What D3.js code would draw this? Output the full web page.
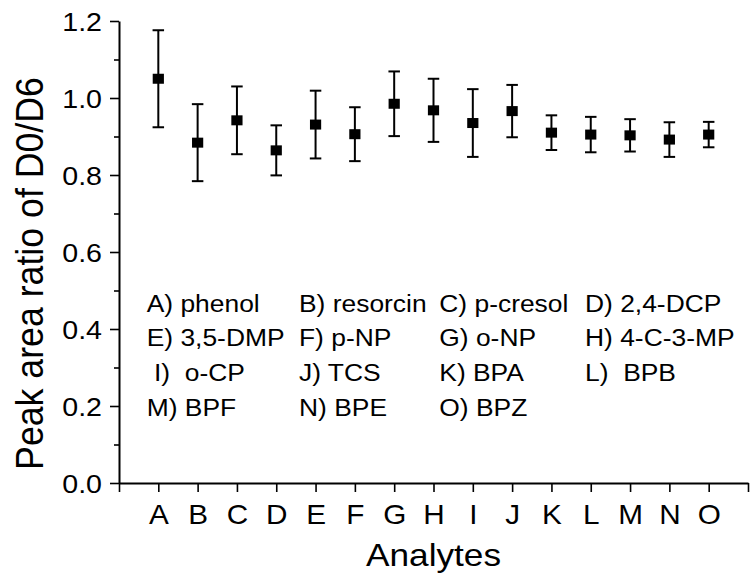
<!DOCTYPE html>
<html>
<head>
<meta charset="utf-8">
<script src="https://cdn.jsdelivr.net/npm/d3@7"></script>
<style>
  html, body { margin: 0; padding: 0; background: #fff; }
  svg { display: block; }
  text { font-family: "Liberation Sans", Arial, sans-serif; fill: #000; white-space: pre; }
</style>
</head>
<body>
<svg id="chart" width="751" height="581"></svg>
<script>
// ---- data ----
const categories = ["A","B","C","D","E","F","G","H","I","J","K","L","M","N","O"];
const means = [1.050, 0.884, 0.942, 0.864, 0.931, 0.906, 0.985, 0.968, 0.935, 0.966, 0.910, 0.905, 0.903, 0.892, 0.905];
const errors = [0.126, 0.100, 0.088, 0.065, 0.088, 0.070, 0.084, 0.082, 0.088, 0.068, 0.045, 0.046, 0.042, 0.045, 0.033];
const yTickValues = [0, 0.2, 0.4, 0.6, 0.8, 1.0, 1.2];
const yMinorValues = [0.1, 0.3, 0.5, 0.7, 0.9, 1.1];
const legendRows = [
  ["A) phenol", "B) resorcin", "C) p-cresol", "D) 2,4-DCP"],
  ["E) 3,5-DMP", "F) p-NP", "G) o-NP", "H) 4-C-3-MP"],
  [" I)  o-CP", "J) TCS", "K) BPA", "L)  BPB"],
  ["M) BPF", "N) BPE", "O) BPZ"]
];
const yTitle = "Peak area ratio of D0/D6";
const xTitle = "Analytes";

// ---- layout ----
const SX = 1.1; // horizontal stretch of the reference raster
const svg = d3.select("#chart");
const x = d3.scaleLinear().domain([0, 16]).range([119, 748]);
const y = d3.scaleLinear().domain([0, 1.2]).range([483, 21]);

// y axis minor ticks
svg.append("g").attr("transform", "translate(119,0)")
  .call(d3.axisLeft(y).tickValues(yMinorValues).tickSize(5).tickSizeOuter(0).tickFormat(""))
  .call(g => g.select(".domain").remove())
  .call(g => g.selectAll("line").attr("stroke", "#000").attr("stroke-width", 1.6));

// y axis major
const gy = svg.append("g").attr("transform", "translate(119,0)")
  .call(d3.axisLeft(y).tickValues(yTickValues).tickSize(9).tickSizeOuter(0).tickFormat(d3.format(".1f")));
gy.select(".domain").attr("stroke", "#000").attr("stroke-width", 2);
gy.selectAll("line").attr("stroke", "#000").attr("stroke-width", 1.6);
gy.selectAll("text")
  .attr("x", null).attr("dy", null)
  .attr("text-anchor", "end")
  .attr("dominant-baseline", "central")
  .attr("font-size", 26)
  .attr("transform", `translate(-17,0) scale(${SX},1)`);

// x axis
const gx = svg.append("g").attr("transform", "translate(0,483)")
  .call(d3.axisBottom(x).tickValues(d3.range(0, 17)).tickSize(9).tickSizeOuter(0)
    .tickFormat(i => categories[i - 1] || ""));
gx.select(".domain").attr("stroke", "#000").attr("stroke-width", 2);
gx.selectAll("line").attr("stroke", "#000").attr("stroke-width", 1.6);
gx.selectAll("text")
  .attr("y", null).attr("dy", null)
  .attr("font-size", 27)
  .attr("text-anchor", "middle")
  .attr("transform", `translate(0,41) scale(${SX},1)`);

// error bars
const capW = 11.5;
const pts = svg.append("g");
categories.forEach((c, i) => {
  const cx = x(i + 1);
  const yTop = y(means[i] + errors[i]);
  const yBot = y(means[i] - errors[i]);
  pts.append("line").attr("x1", cx).attr("x2", cx).attr("y1", yTop).attr("y2", yBot)
    .attr("stroke", "#000").attr("stroke-width", 2);
  [yTop, yBot].forEach(yy => {
    pts.append("line").attr("x1", cx - capW / 2).attr("x2", cx + capW / 2).attr("y1", yy).attr("y2", yy)
      .attr("stroke", "#000").attr("stroke-width", 2);
  });
  pts.append("rect").attr("x", cx - 5.6).attr("y", y(means[i]) - 5).attr("width", 11.2).attr("height", 10)
    .attr("fill", "#000");
});

// legend text block
const colX = [146.7, 299, 439.3, 585];
const rowY = [312, 346, 381, 416];
legendRows.forEach((row, r) => {
  row.forEach((t, c) => {
    svg.append("text")
      .attr("transform", `translate(${colX[c]},${rowY[r]}) scale(${SX},1)`)
      .attr("font-size", 24)
      .text(t);
  });
});

// axis titles
svg.append("text")
  .attr("transform", `translate(433.5,566) scale(${SX},1)`)
  .attr("text-anchor", "middle")
  .attr("font-size", 32)
  .text(xTitle);

svg.append("text")
  .attr("transform", `translate(43,273.5) scale(${SX},1) rotate(-90)`)
  .attr("text-anchor", "middle")
  .attr("font-size", 35.7)
  .text(yTitle);
</script>
</body>
</html>
